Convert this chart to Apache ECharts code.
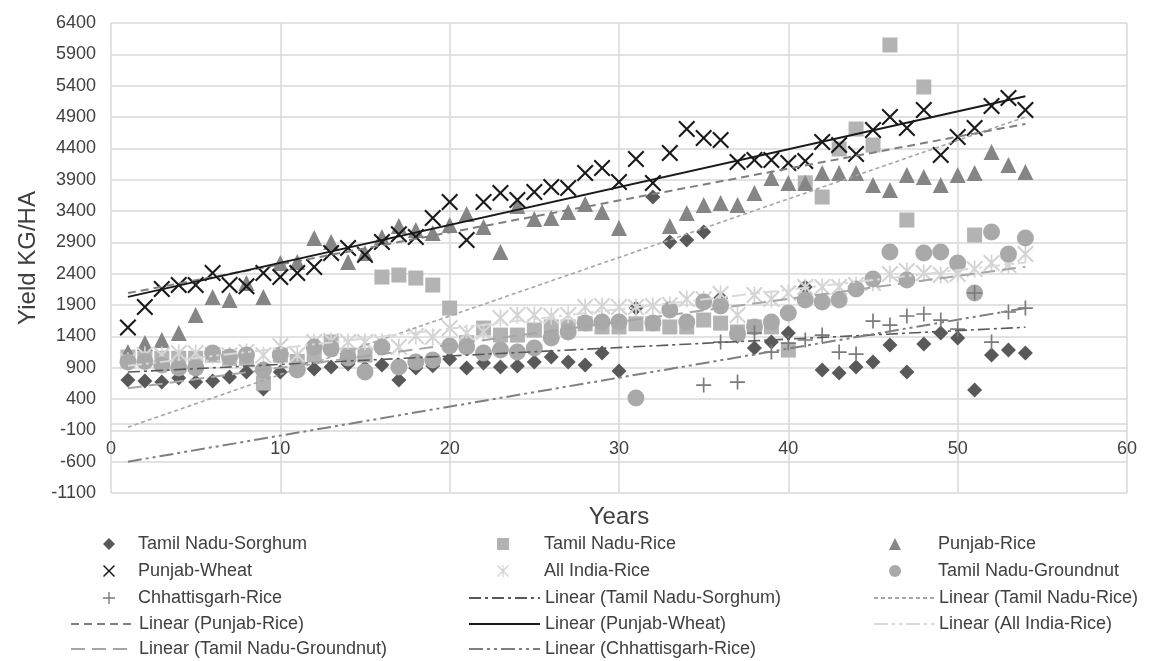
<!DOCTYPE html>
<html><head><meta charset="utf-8">
<script src="https://cdn.jsdelivr.net/npm/echarts@6/dist/echarts.min.js"></script>
<style>html,body{margin:0;padding:0;background:#fff}#c{width:1152px;height:661px}</style>
</head><body><div id="c"></div>
<script>
// ---------- data ----------
const years = [1,2,3,4,5,6,7,8,9,10,11,12,13,14,15,16,17,18,19,20,21,22,23,24,25,26,27,28,29,30,31,32,33,34,35,36,37,38,39,40,41,42,43,44,45,46,47,48,49,50,51,52,53,54];
const tnSorghum = [702,686,670,734,670,686,750,830,560,830, 862,878,910,958,894,942,702,894,930,1037, 894,974,910,926,990,1070,990,942,1133,846, 1851,3623,2905,2937,3064,2011,1400,1213,1309,1453, 2187,862,814,910,990,1261,830,1277,1453,1373, 543,1101,1181,1133];
const tnRice = [1069,1050,1050,1050,1050,1100,1050,1050,654,1100, 1000,1100,1310,1100,1100,2346,2378,2330,2218,1851, 1300,1532,1420,1420,1500,1550,1550,1600,1550,1550, 1600,1600,1550,1550,1660,1610,1470,1550,1550,1181, 3850,3623,4390,4708,4453,6049,3256,5379,null,null, 3016,null,null,null];
const punjabRice = [1149,1293,1341,1452,1740,2027,1979,2250,2027,2570, 2586,2969,2905,2586,2730,2985,3160,3096,3048,3176, 3352,3144,2745,3479,3272,3288,3384,3511,3384,3128, null,null,3160,3368,3496,3527,3496,3687,3926,3846, 3846,4006,4006,4006,3815,3735,3974,3942,3815,3974, 4006,4341,4134,4022];
const punjabWheat = [1540,1867,2155,2218,2218,2410,2220,2200,2410,2346, 2410,2506,2730,2810,2700,2905,3030,2985,3290,3543, 2937,3543,3687,3575,3703,3783,3767,4006,4086,3862, 4229,3846,4325,4708,4565,4533,4182,4213,4213,4166, 4198,4501,4453,4309,4692,4900,4724,5012,4293,4581, 4724,5075,5203,5012];
const allIndiaRice = [1010,1101,1101,1133,1133,1100,1100,1149,1100,1245, 1101,1309,1325,1309,1309,1309,1229,1405,1389,1532, 1452,1468,1692,1740,1740,1724,1740,1867,1883,1867, 1867,1883,1899,1995,1990,2075,1740,2059,1995,2091, 2187,2187,2187,2218,2250,2394,2442,2410,2378,2394, 2474,2570,2538,2713];
const tnGroundnut = [990,1000,942,894,894,1133,1070,1101,862,1101, 862,1229,1200,1053,830,1229,910,990,1021,1245, 1229,1133,1181,1149,1213,1373,1469,1612,1628,1628, 415,1612,1820,1628,1947,1883,1437,1548,1628,1772, 1979,1947,1979,2155,2314,2745,2298,2730,2745,2570, 2091,3064,2713,2969];
const chhattisgarhRice = [null,null,null,null,null,null,null,null,null,null, null,null,null,null,null,null,null,null,null,null, null,null,null,null,null,null,null,null,null,null, null,null,null,null,622,1309,670,1453,1149,1293, 1341,1420,1149,1117,1644,1580,1724,1756,1660,1516, 2091,1309,1788,1851];

// trend lines: endpoints at the first and last year
const trendYears = [1, 54];
const trendTnSorghum = [830, 1545];
const trendTnRice = [-50, 4900];
const trendPunjabRice = [2090, 4790];
const trendPunjabWheat = [2030, 5230];
const trendAllIndiaRice = [930, 2580];
const trendTnGroundnut = [570, 2510];
const trendChhattisgarhRice = [-600, 1850];

const seriesNames = ['Tamil Nadu-Sorghum','Tamil Nadu-Rice','Punjab-Rice','Punjab-Wheat','All India-Rice','Tamil Nadu-Groundnut','Chhattisgarh-Rice'];
const trendNames = seriesNames.map(n => 'Linear (' + n + ')');

const xTicks = {min:0, max:60, interval:10};
const yTicks = {min:-1100, max:6400, interval:500};

// ---------- styles ----------
const FONT = 'Liberation Sans, Arial, sans-serif';
const X_PATH = 'path://M1.4,0 L8,6.6 L14.6,0 L16,1.4 L9.4,8 L16,14.6 L14.6,16 L8,9.4 L1.4,16 L0,14.6 L6.6,8 L0,1.4 Z';
const AST_PATH = 'path://M1.4,0 L8,6.6 L14.6,0 L16,1.4 L9.4,8 L16,14.6 L14.6,16 L8,9.4 L1.4,16 L0,14.6 L6.6,8 L0,1.4 Z M7.2,0 L8.8,0 L8.8,16 L7.2,16 Z';
const PLUS_PATH = 'path://M7.1,0 L8.9,0 L8.9,7.1 L16,7.1 L16,8.9 L8.9,8.9 L8.9,16 L7.1,16 L7.1,8.9 L0,8.9 L0,7.1 L7.1,7.1 Z';

const scatterStyles = [
  {symbol:'diamond', size:15, color:'#595959'},
  {symbol:'rect', size:15, color:'#b3b3b3'},
  {symbol:'triangle', size:16, color:'#858585'},
  {symbol:X_PATH, size:17, color:'#1a1a1a'},
  {symbol:AST_PATH, size:17, color:'#d4d4d4'},
  {symbol:'circle', size:17, color:'#a9a9a9'},
  {symbol:PLUS_PATH, size:15, color:'#7a7a7a'}
];
const lineStyles = [
  {color:'#595959', width:1.6, type:[12,4,3,4]},
  {color:'#a6a6a6', width:1.6, type:[4,3]},
  {color:'#7f7f7f', width:2, type:[8,5]},
  {color:'#1a1a1a', width:2, type:'solid'},
  {color:'#d9d9d9', width:2, type:[14,4,3,4,3,4]},
  {color:'#a6a6a6', width:2, type:[14,7]},
  {color:'#7f7f7f', width:2, type:[14,4,3,4,3,4]}
];

const seriesValues = [tnSorghum, tnRice, punjabRice, punjabWheat, allIndiaRice, tnGroundnut, chhattisgarhRice];
const trendValues = [trendTnSorghum, trendTnRice, trendPunjabRice, trendPunjabWheat, trendAllIndiaRice, trendTnGroundnut, trendChhattisgarhRice];

const series = [];
seriesValues.forEach((vals, i) => {
  const s = scatterStyles[i];
  series.push({
    type:'scatter', name:seriesNames[i], symbol:s.symbol, symbolSize:s.size,
    itemStyle:{color:s.color, opacity:1},
    data: years.map((x, k) => vals[k] == null ? null : [x, vals[k]]).filter(d => d),
    z: 2
  });
});
trendValues.forEach((vals, i) => {
  const l = lineStyles[i];
  series.push({
    type:'line', name:trendNames[i], symbol:'none', showSymbol:false,
    lineStyle:{color:l.color, width:l.width, type:l.type},
    itemStyle:{color:l.color},
    data: trendYears.map((x, k) => [x, vals[k]]),
    z: 3, silent:true
  });
});

// ---------- legend layout (3 columns x 5 rows, Excel-like) ----------
const colText = [138, 544, 938];
const markerCenter = [109, 503, 895];
const lineStart = [70, 468, 873];
const rowY = [543, 570, 597, 623, 648];
const MK = 12;
const allNames = seriesNames.concat(trendNames);
const legends = allNames.map((name, pos) => {
  const col = pos % 3, row = Math.floor(pos / 3);
  const isLine = pos >= 7;
  const base = {
    data:[name], top:rowY[row] - 8, padding:0, selectedMode:false,
    textStyle:{fontFamily:FONT, fontSize:18, color:'#404040'}
  };
  if (isLine) {
    return Object.assign(base, {left:lineStart[col], itemWidth:colText[col] - 5 - lineStart[col], itemHeight:12,
      itemStyle:{opacity:0}});
  }
  const left = markerCenter[col] - MK / 2;
  const pad = colText[col] - (left + MK + 5);
  base.textStyle.padding = [0, 0, 0, pad];
  return Object.assign(base, {left:left, itemWidth:MK, itemHeight:MK});
});

const chart = echarts.init(document.getElementById('c'), null, {renderer:'canvas'});
chart.setOption({
  backgroundColor:'#ffffff',
  animation:false,
  grid:{left:111, right:25, top:23, bottom:168, containLabel:false},
  xAxis:{
    type:'value', min:xTicks.min, max:xTicks.max, interval:xTicks.interval,
    offset:-69,
    name:'Years', nameLocation:'middle', nameGap:81,
    nameTextStyle:{fontFamily:FONT, fontSize:24, color:'#404040'},
    axisLine:{show:true, onZero:false, lineStyle:{color:'#d9d9d9', width:1.5}},
    axisTick:{show:false},
    axisLabel:{fontFamily:FONT, fontSize:18, color:'#404040', margin:16},
    splitLine:{show:true, lineStyle:{color:'#d9d9d9', width:1.5}}
  },
  yAxis:{
    type:'value', min:yTicks.min, max:yTicks.max, interval:yTicks.interval,
    name:'Yield KG/HA', nameLocation:'middle', nameGap:66, nameRotate:90,
    nameTextStyle:{fontFamily:FONT, fontSize:24, color:'#404040'},
    axisLine:{show:false}, axisTick:{show:false},
    axisLabel:{fontFamily:FONT, fontSize:18, color:'#404040', margin:15, formatter: v => String(v)},
    splitLine:{show:true, lineStyle:{color:'#d9d9d9', width:1.5}}
  },
  legend: legends,
  series: series
});
</script>
</body></html>
